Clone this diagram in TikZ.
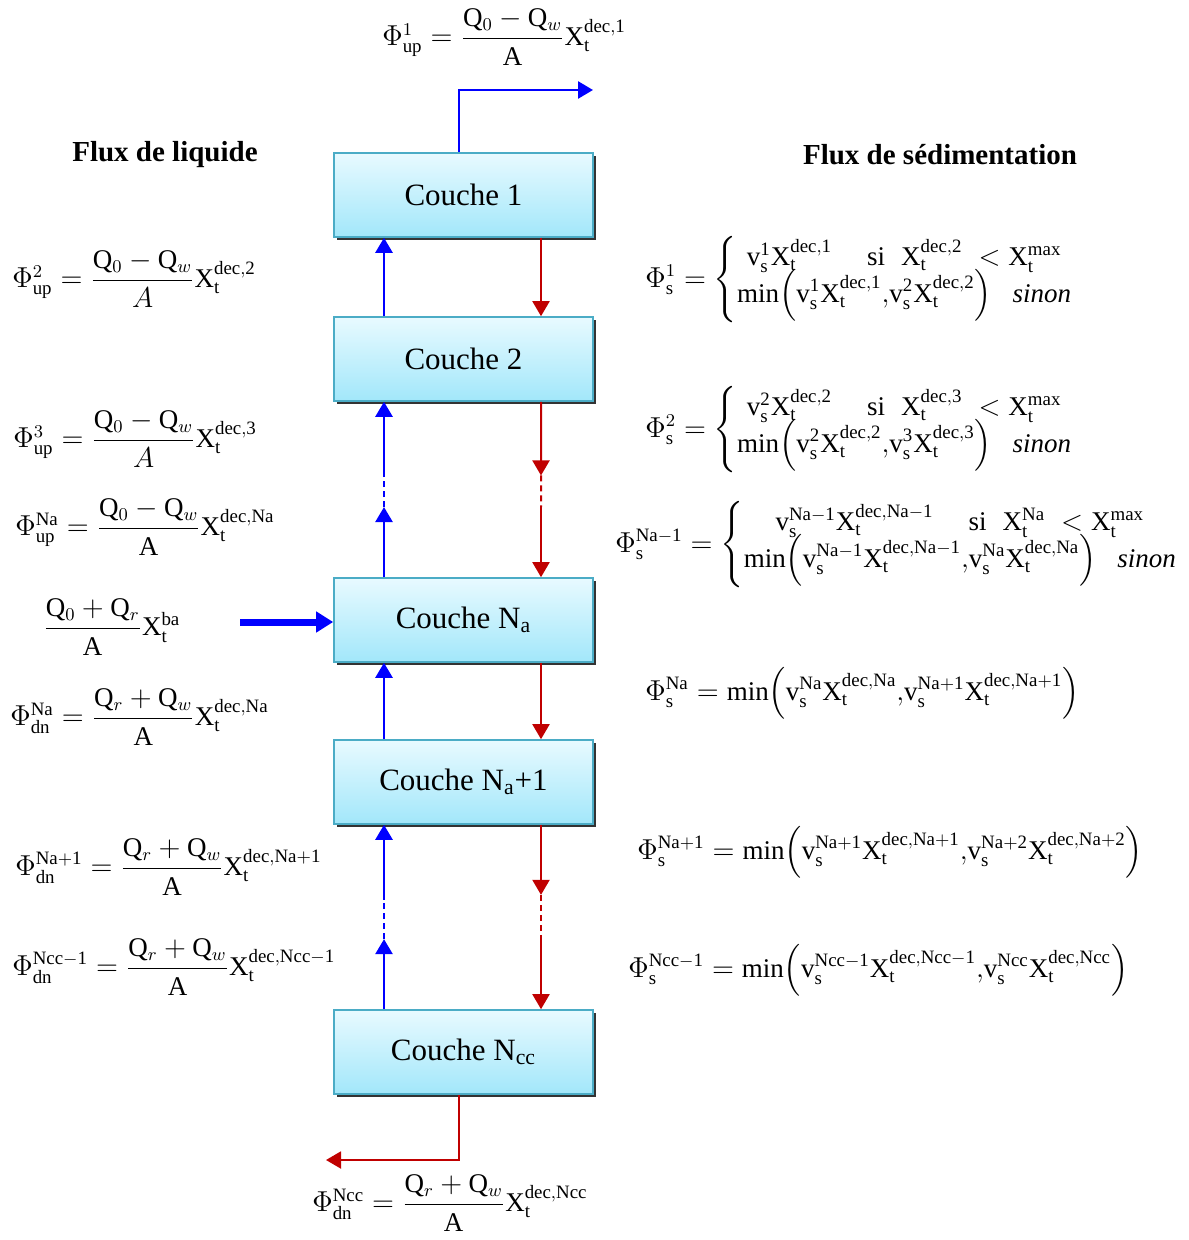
\documentclass[tikz,border=0pt]{standalone}
\usepackage{amsmath}
\usepackage{fontspec}
\setmainfont{Liberation Serif}
\usetikzlibrary{arrows.meta,shadows,calc}

\definecolor{boxtop}{RGB}{232,250,255}
\definecolor{boxbot}{RGB}{162,231,250}
\definecolor{boxline}{RGB}{75,172,198}
\definecolor{sedred}{RGB}{192,0,0}

\newcommand{\Xt}[1]{\mathrm{X}_{\mathrm{t}}^{\mathrm{#1}}}
\newcommand{\vs}[1]{\mathrm{v}_{\mathrm{s}}^{\mathrm{#1}}}
\newcommand{\Q}{\mathrm{Q}}

\tikzset{
  couche/.style={draw=boxline, line width=0.8pt, top color=boxtop, bottom color=boxbot,
    minimum width=129.5pt, minimum height=42pt, font=\fontsize{15.5}{18}\selectfont,
    drop shadow={shadow xshift=1.3pt, shadow yshift=-1.3pt, fill=black!80, opacity=1}},
  eq/.style={inner sep=0pt, font=\fontsize{13.5}{16}\selectfont},
  titre/.style={font=\fontsize{14.5}{17}\selectfont\bfseries},
  liq/.style={blue, line width=1.3pt, -{Triangle[length=7.5pt,width=8.5pt]}},
  sed/.style={sedred, line width=1pt, -{Triangle[length=7.5pt,width=8.5pt]}},
  liqpt/.style={blue, line width=1.3pt, dash pattern=on 3pt off 2pt},
  sedpt/.style={sedred, line width=1pt, dash pattern=on 3pt off 2pt},
  alim/.style={blue, line width=3.5pt, -{Triangle[length=8.5pt,width=10pt]}}
}

\begin{document}
\begin{tikzpicture}[x=0.5pt,y=-0.5pt]
\useasboundingbox (0,0) rectangle (1188,1240);

% les couches du decanteur
\node[couche] (c1) at (463.5,195) {Couche 1};
\node[couche] (c2) at (463.5,359) {Couche 2};
\node[couche] (cNa) at (463.5,620) {Couche N\textsubscript{a}};
\node[couche] (cNb) at (463.5,782) {Couche N\textsubscript{a}+1};
\node[couche] (cNcc) at (463.5,1052) {Couche N\textsubscript{cc}};

\node[titre] (tliq) at (165,155) {Flux de liquide};
\node[titre] (tsed) at (940,155) {Flux de sédimentation};

% flux de liquide (montant) et flux de sedimentation (descendant)
\coordinate (bl) at (384,0);
\coordinate (rd) at (541,0);

\draw[liq] (c2.north -| bl) -- (c1.south -| bl);
\draw[sed] (c1.south -| rd) -- (c2.north -| rd);

\coordinate (ba) at ($(c2.south -| bl)!.42!(cNa.north -| bl)$);
\coordinate (bb) at ($(c2.south -| bl)!.6!(cNa.north -| bl)$);
\coordinate (ra) at ($(c2.south -| rd)!.42!(cNa.north -| rd)$);
\coordinate (rb) at ($(c2.south -| rd)!.6!(cNa.north -| rd)$);
\draw[liq] (ba) -- (c2.south -| bl);
\draw[liqpt] (bb) -- (ba);
\draw[liq] (cNa.north -| bl) -- (bb);
\draw[sed] (c2.south -| rd) -- (ra);
\draw[sedpt] (ra) -- (rb);
\draw[sed] (rb) -- (cNa.north -| rd);

\draw[liq] (cNb.north -| bl) -- (cNa.south -| bl);
\draw[sed] (cNa.south -| rd) -- (cNb.north -| rd);

\coordinate (bc) at ($(cNb.south -| bl)!.4!(cNcc.north -| bl)$);
\coordinate (bd) at ($(cNb.south -| bl)!.62!(cNcc.north -| bl)$);
\coordinate (rc) at ($(cNb.south -| rd)!.38!(cNcc.north -| rd)$);
\coordinate (rdd) at ($(cNb.south -| rd)!.63!(cNcc.north -| rd)$);
\draw[liq] (bc) -- (cNb.south -| bl);
\draw[liqpt] (bd) -- (bc);
\draw[liq] (cNcc.north -| bl) -- (bd);
\draw[sed] (cNb.south -| rd) -- (rc);
\draw[sedpt] (rc) -- (rdd);
\draw[sed] (rdd) -- (cNcc.north -| rd);

% sortie, alimentation et soutirage
\coordinate (sortie) at (593,90);
\coordinate (entree) at (240,622);
\coordinate (purge) at (326,1160);
\draw[liq] ([xshift=-2.25pt]c1.north) |- (sortie);
\draw[alim] (entree) -- (cNa.west |- entree);
\draw[sed] ([xshift=-2.25pt]cNcc.south) |- (purge);

% flux de liquide
\node[eq, anchor=west] (fup1) at (382,37) {$\Phi_{\mathrm{up}}^{1}=\dfrac{\Q_0-\Q_w}{\mathrm{A}}\Xt{dec,1}$};
\node[eq, anchor=west] (fup2) at (12,279) {$\Phi_{\mathrm{up}}^{2}=\dfrac{\Q_0-\Q_w}{A}\Xt{dec,2}$};
\node[eq, anchor=west] (fup3) at (13,439) {$\Phi_{\mathrm{up}}^{3}=\dfrac{\Q_0-\Q_w}{A}\Xt{dec,3}$};
\node[eq, anchor=west] (fupNa) at (15,527) {$\Phi_{\mathrm{up}}^{\mathrm{Na}}=\dfrac{\Q_0-\Q_w}{\mathrm{A}}\Xt{dec,Na}$};
\node[eq, anchor=west] (falim) at (43,627) {$\dfrac{\Q_0+\Q_r}{\mathrm{A}}\Xt{ba}$};
\node[eq, anchor=west] (fdnNa) at (10,717) {$\Phi_{\mathrm{dn}}^{\mathrm{Na}}=\dfrac{\Q_r+\Q_w}{\mathrm{A}}\Xt{dec,Na}$};
\node[eq, anchor=west] (fdnNb) at (15,867) {$\Phi_{\mathrm{dn}}^{\mathrm{Na+1}}=\dfrac{\Q_r+\Q_w}{\mathrm{A}}\Xt{dec,Na+1}$};
\node[eq, anchor=west] (fdnNcc1) at (12,967) {$\Phi_{\mathrm{dn}}^{\mathrm{Ncc-1}}=\dfrac{\Q_r+\Q_w}{\mathrm{A}}\Xt{dec,Ncc-1}$};
\node[eq, anchor=west] (fdnNcc) at (312,1203) {$\Phi_{\mathrm{dn}}^{\mathrm{Ncc}}=\dfrac{\Q_r+\Q_w}{\mathrm{A}}\Xt{dec,Ncc}$};

% flux de sedimentation
\node[eq, anchor=west] (fs1) at (645,280) {$\Phi_{\mathrm{s}}^{1}=\left\{\begin{array}{@{}c@{}}
  \vs{1}\Xt{dec,1}\quad\;\mathrm{si}\;\;\Xt{dec,2}\;<\Xt{max}\\[-3pt]
  \min\!\left(\vs{1}\Xt{dec,1}{,}\vs{2}\Xt{dec,2}\right)\;\;\mathit{sinon}
  \end{array}\right.$};
\node[eq, anchor=west] (fs2) at (645,430) {$\Phi_{\mathrm{s}}^{2}=\left\{\begin{array}{@{}c@{}}
  \vs{2}\Xt{dec,2}\quad\;\mathrm{si}\;\;\Xt{dec,3}\;<\Xt{max}\\[-3pt]
  \min\!\left(\vs{2}\Xt{dec,2}{,}\vs{3}\Xt{dec,3}\right)\;\;\mathit{sinon}
  \end{array}\right.$};
\node[eq, anchor=west] (fsNa1) at (615,545) {$\Phi_{\mathrm{s}}^{\mathrm{Na-1}}=\left\{\begin{array}{@{}c@{}}
  \vs{Na-1}\Xt{dec,Na-1}\quad\;\mathrm{si}\;\;\Xt{Na}\;<\Xt{max}\\[-3pt]
  \min\!\left(\vs{Na-1}\Xt{dec,Na-1}{,}\vs{Na}\Xt{dec,Na}\right)\;\;\mathit{sinon}
  \end{array}\right.$};
\node[eq, anchor=west] (fsNa) at (645,693) {$\Phi_{\mathrm{s}}^{\mathrm{Na}}=\min\!\left(\vs{Na}\Xt{dec,Na}{,}\vs{Na+1}\Xt{dec,Na+1}\right)$};
\node[eq, anchor=west] (fsNb) at (637,852) {$\Phi_{\mathrm{s}}^{\mathrm{Na+1}}=\min\!\left(\vs{Na+1}\Xt{dec,Na+1}{,}\vs{Na+2}\Xt{dec,Na+2}\right)$};
\node[eq, anchor=west] (fsNcc1) at (628,970) {$\Phi_{\mathrm{s}}^{\mathrm{Ncc-1}}=\min\!\left(\vs{Ncc-1}\Xt{dec,Ncc-1}{,}\vs{Ncc}\Xt{dec,Ncc}\right)$};

\end{tikzpicture}
\end{document}
